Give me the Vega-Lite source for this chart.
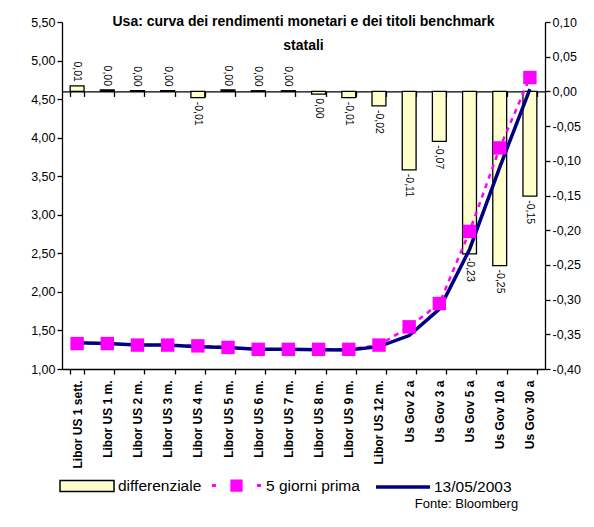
{
  "$schema": "https://vega.github.io/schema/vega-lite/v6.json",
  "width": 483,
  "height": 347,
  "autosize": {"type": "none"},
  "padding": {"left": 62, "top": 22, "right": 49, "bottom": 158},
  "background": "white",
  "title": {
    "text": ["Usa: curva dei rendimenti monetari e dei titoli benchmark", "statali"],
    "font": "Liberation Sans",
    "fontSize": 14,
    "fontWeight": "bold",
    "color": "black",
    "anchor": "middle",
    "lineHeight": 24,
    "offset": -37
  },
  "data": {
    "values": [
      {"cat": "Libor US 1 sett.", "prima": 1.33, "oggi": 1.34, "diff": 0.008},
      {"cat": "Libor US 1 m.", "prima": 1.33, "oggi": 1.33, "diff": 0.002},
      {"cat": "Libor US 2 m.", "prima": 1.31, "oggi": 1.31, "diff": 0.001},
      {"cat": "Libor US 3 m.", "prima": 1.31, "oggi": 1.31, "diff": 0.001},
      {"cat": "Libor US 4 m.", "prima": 1.30, "oggi": 1.29, "diff": -0.009},
      {"cat": "Libor US 5 m.", "prima": 1.28, "oggi": 1.28, "diff": 0.002},
      {"cat": "Libor US 6 m.", "prima": 1.255, "oggi": 1.255, "diff": 0.001},
      {"cat": "Libor US 7 m.", "prima": 1.255, "oggi": 1.255, "diff": 0.001},
      {"cat": "Libor US 8 m.", "prima": 1.255, "oggi": 1.25, "diff": -0.004},
      {"cat": "Libor US 9 m.", "prima": 1.255, "oggi": 1.246, "diff": -0.009},
      {"cat": "Libor US 12 m.", "prima": 1.31, "oggi": 1.29, "diff": -0.021},
      {"cat": "Us Gov 2 a", "prima": 1.547, "oggi": 1.434, "diff": -0.113},
      {"cat": "Us Gov 3 a", "prima": 1.849, "oggi": 1.777, "diff": -0.072},
      {"cat": "Us Gov 5 a", "prima": 2.784, "oggi": 2.55, "diff": -0.234},
      {"cat": "Us Gov 10 a", "prima": 3.867, "oggi": 3.616, "diff": -0.251},
      {"cat": "Us Gov 30 a", "prima": 4.78, "oggi": 4.629, "diff": -0.151}
    ]
  },
  "config": {
    "locale": {
      "number": {"decimal": ",", "thousands": ".", "grouping": [3], "currency": ["", " €"], "minus": "-"}
    },
    "font": "Liberation Sans",
    "view": {"stroke": null},
    "axis": {
      "grid": false,
      "labelFont": "Liberation Sans",
      "labelColor": "black",
      "domainColor": "black",
      "tickColor": "black",
      "domainWidth": 1.3,
      "tickWidth": 1.3
    },
    "legend": {
      "labelFont": "Liberation Sans",
      "labelFontSize": 15.5,
      "labelColor": "black",
      "padding": 0,
      "orient": "none",
      "direction": "vertical"
    }
  },
  "resolve": {"scale": {"y": "independent"}, "axis": {"x": "independent"}},
  "layer": [
    {
      "encoding": {
        "x": {
          "field": "cat",
          "type": "nominal",
          "sort": null,
          "scale": {"paddingInner": 0.54, "paddingOuter": 0.27},
          "axis": {
            "orient": "top",
            "offset": -69.4,
            "labels": false,
            "title": null,
            "tickSize": -5,
            "tickBand": "extent"
          }
        },
        "y": {
          "field": "diff",
          "type": "quantitative",
          "scale": {"domain": [-0.4, 0.1], "nice": false, "zero": false},
          "axis": {
            "orient": "right",
            "title": null,
            "values": [-0.4, -0.35, -0.3, -0.25, -0.2, -0.15, -0.1, -0.05, 0, 0.05, 0.1],
            "format": ".2f",
            "labelFontSize": 12.5,
            "tickSize": 5,
            "labelPadding": 2
          }
        }
      },
      "layer": [
        {
          "mark": {"type": "bar", "stroke": "black", "strokeWidth": 1.3},
          "encoding": {
            "fill": {
              "datum": "differenziale",
              "type": "nominal",
              "scale": {"range": ["#FFFFCC"]},
              "legend": {
                "title": null,
                "legendX": -3,
                "legendY": 436,
                "symbolType": "M-1,-0.2H1V0.2H-1Z",
                "symbolSize": 2916,
                "symbolStrokeColor": "black",
                "symbolStrokeWidth": 1.5,
                "labelOffset": 3
              }
            }
          }
        },
        {
          "transform": [{"filter": "datum.diff >= 0"}],
          "mark": {"type": "text", "angle": 90, "align": "right", "baseline": "middle", "dx": -4, "fontSize": 10.5, "font": "Liberation Sans", "color": "black"},
          "encoding": {"text": {"field": "diff", "type": "quantitative", "format": ".2f"}}
        },
        {
          "transform": [{"filter": "datum.diff < 0"}],
          "mark": {"type": "text", "angle": 90, "align": "left", "baseline": "middle", "dx": 4, "fontSize": 10.5, "font": "Liberation Sans", "color": "black"},
          "encoding": {"text": {"field": "diff", "type": "quantitative", "format": ".2f"}}
        }
      ]
    },
    {
      "encoding": {
        "x": {
          "field": "cat",
          "type": "nominal",
          "sort": null,
          "axis": {
            "orient": "bottom",
            "labelAngle": -90,
            "labelAlign": "right",
            "labelBaseline": "middle",
            "labelFontWeight": "bold",
            "labelFontSize": 12,
            "labelPadding": 6,
            "labelLimit": 200,
            "tickSize": 5,
            "tickBand": "extent",
            "title": "Fonte: Bloomberg",
            "titleFont": "Liberation Sans",
            "titleFontSize": 13,
            "titleFontWeight": "normal",
            "titleColor": "black",
            "titleAlign": "center",
            "titleBaseline": "middle",
            "titleX": 404,
            "titleY": 134
          }
        }
      },
      "layer": [
        {
          "mark": {"type": "line", "color": "#FF00FF", "strokeWidth": 2.5, "strokeDash": [5, 5]},
          "encoding": {
            "y": {
              "field": "prima",
              "type": "quantitative",
              "scale": {"domain": [1, 5.5], "nice": false, "zero": false},
              "axis": {
                "orient": "left",
                "title": null,
                "values": [1, 1.5, 2, 2.5, 3, 3.5, 4, 4.5, 5, 5.5],
                "format": ".2f",
                "labelFontSize": 12.5,
                "tickSize": 5,
                "labelPadding": 2
              }
            }
          }
        },
        {
          "mark": {"type": "line", "strokeWidth": 3.5},
          "encoding": {
            "y": {
              "field": "oggi",
              "type": "quantitative",
              "axis": {
                "orient": "left",
                "title": null,
                "values": [1, 1.5, 2, 2.5, 3, 3.5, 4, 4.5, 5, 5.5],
                "format": ".2f",
                "labelFontSize": 12.5,
                "tickSize": 5,
                "labelPadding": 2
              }
            },
            "stroke": {
              "datum": "13/05/2003",
              "type": "nominal",
              "scale": {"range": ["#000080"]},
              "legend": {
                "title": null,
                "legendX": 312,
                "legendY": 436,
                "symbolType": "stroke",
                "symbolSize": 2916,
                "symbolStrokeWidth": 3.5,
                "labelOffset": 2
              }
            }
          }
        },
        {
          "mark": {"type": "point", "shape": "square", "filled": true, "size": 180, "opacity": 1},
          "encoding": {
            "y": {
              "field": "prima",
              "type": "quantitative",
              "axis": {
                "orient": "left",
                "title": null,
                "values": [1, 1.5, 2, 2.5, 3, 3.5, 4, 4.5, 5, 5.5],
                "format": ".2f",
                "labelFontSize": 12.5,
                "tickSize": 5,
                "labelPadding": 2
              }
            },
            "color": {
              "datum": "5 giorni prima",
              "type": "nominal",
              "scale": {"range": ["#FF00FF"]},
              "legend": {
                "title": null,
                "legendX": 150,
                "legendY": 439,
                "symbolType": "M-1,-0.06H-0.84V0.06H-1Z M-0.25,-0.25H0.25V0.25H-0.25Z M0.84,-0.06H1V0.06H0.84Z",
                "symbolSize": 2401,
                "symbolFillColor": "#FF00FF",
                "symbolStrokeWidth": 0,
                "labelOffset": 5
              }
            }
          }
        }
      ]
    }
  ]
}
